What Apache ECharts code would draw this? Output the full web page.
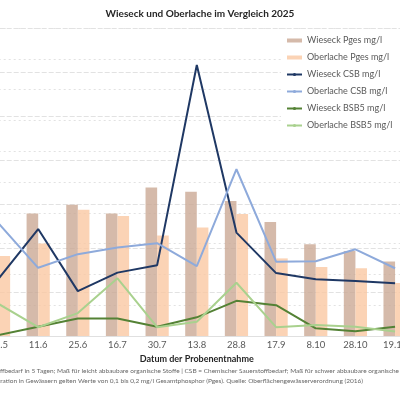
<!DOCTYPE html>
<html><head><meta charset="utf-8">
<script src="https://cdn.jsdelivr.net/npm/echarts@6/dist/echarts.min.js"></script>
<style>html,body{margin:0;padding:0;background:#fff}#c{width:400px;height:400px}</style>
</head><body><div id="c"></div>
<script>
const categories = ['28.5','11.6','25.6','16.7','30.7','13.8','28.8','17.9','8.10','28.10','19.11'];
const wieseckPges = [0.20,0.199,0.213,0.199,0.241,0.234,0.219,0.185,0.149,0.138,0.121];
const oberlachePges = [0.130,0.150,0.205,0.195,0.163,0.176,0.198,0.126,0.112,0.110,0.086];
const wieseckCSB = [13.0,24.3,10.2,14.4,16.1,61.6,23.5,14.3,12.9,12.5,12.0];
const oberlacheCSB = [25.6,15.5,18.6,20.1,21.1,15.9,37.9,16.9,17.0,19.7,15.4];
const wieseckBSB5 = [0.2,2.1,4.0,4.0,2.1,4.25,8.0,7.0,1.75,1.1,2.1];
const oberlacheBSB5 = [7.3,2.0,5.2,13.1,2.0,3.25,12.1,2.0,2.5,2.1,1.0];
const footLine1 = 'BSB5 = Biochemischer Sauerstoffbedarf in 5 Tagen; Maß für leicht abbaubare organische Stoffe | CSB = Chemischer Sauerstoffbedarf; Maß für schwer abbaubare organische Stoffe';
const footLine2 = 'Als Orientierungswert für die Phosphorkonzentration in Gewässern gelten Werte von 0,1 bis 0,2 mg/l Gesamtphosphor (Pges). Quelle: Oberflächengewässerverordnung (2016)';

const FONT = 'Lato';
const footSize = 6.5;
const ctx = document.createElement('canvas').getContext('2d');
ctx.font = footSize + 'px ' + FONT;
const prefixW = ctx.measureText('BSB5 = Biochemischer Sauersto').width;

const chart = echarts.init(document.getElementById('c'));
chart.setOption({
  animation: false,
  backgroundColor: '#fff',
  textStyle: { fontFamily: FONT },
  title: {
    text: 'Wieseck und Oberlache im Vergleich 2025',
    left: 'center', top: 4,
    textStyle: { fontSize: 10, fontWeight: 'bold', color: '#262626', fontFamily: FONT }
  },
  legend: {
    orient: 'vertical', left: 281, top: 33,
    padding: [3, 20, 3, 5],
    backgroundColor: '#fff',
    itemWidth: 15, itemHeight: 4, itemGap: 8,
    textStyle: { fontSize: 9, color: '#595959', fontFamily: FONT },
    data: [
      { name: 'Wieseck Pges mg/l', icon: 'rect' },
      { name: 'Oberlache Pges mg/l', icon: 'rect' },
      { name: 'Wieseck CSB mg/l' },
      { name: 'Oberlache CSB mg/l' },
      { name: 'Wieseck BSB5 mg/l' },
      { name: 'Oberlache BSB5 mg/l' }
    ]
  },
  grid: { left: -21.3, right: -14.9, top: 28, bottom: 64, containLabel: false, outerBoundsMode: 'none' },
  xAxis: {
    type: 'category', data: categories,
    axisLine: { show: true, lineStyle: { color: '#e0e0e0' } },
    axisTick: { show: false },
    axisLabel: { color: '#595959', fontSize: 9.5, margin: 4, fontFamily: FONT },
    name: 'Datum der Probenentnahme', nameLocation: 'middle', nameGap: 15,
    nameTextStyle: { fontSize: 9, fontWeight: 'bold', color: '#262626', fontFamily: FONT }
  },
  yAxis: [
    { type: 'value', min: 0, max: 70, interval: 10, position: 'left',
      axisLabel: { color: '#595959', fontSize: 10 },
      splitLine: { lineStyle: { color: '#e2e2e2', type: [5, 2], width: 1 } } },
    { type: 'value', min: 0, max: 0.5, interval: 0.05, position: 'right',
      axisLabel: { color: '#595959', fontSize: 10 },
      splitLine: { lineStyle: { color: '#e2e2e2', type: [2, 3], width: 1 } } }
  ],
  graphic: [
    { type: 'text', left: -prefixW, top: 367, style: { text: footLine1, fontSize: footSize, fill: '#666', fontFamily: FONT } },
    { type: 'text', right: 37, top: 377, style: { text: footLine2, fontSize: footSize, fill: '#666', fontFamily: FONT } }
  ],
  series: [
    { name: 'Wieseck Pges mg/l', type: 'bar', yAxisIndex: 1, data: wieseckPges, barWidth: 11.6, barGap: '0%',
      itemStyle: { color: '#cba995', opacity: 0.8 } },
    { name: 'Oberlache Pges mg/l', type: 'bar', yAxisIndex: 1, data: oberlachePges, barWidth: 11.6, barGap: '0%',
      itemStyle: { color: '#fac8a3', opacity: 0.8 } },
    { name: 'Wieseck CSB mg/l', type: 'line', yAxisIndex: 0, data: wieseckCSB, symbol: 'none',
      lineStyle: { color: '#1f3864', width: 2 }, itemStyle: { color: '#1f3864' } },
    { name: 'Oberlache CSB mg/l', type: 'line', yAxisIndex: 0, data: oberlacheCSB, symbol: 'none',
      lineStyle: { color: '#8eaadb', width: 2 }, itemStyle: { color: '#8eaadb' } },
    { name: 'Wieseck BSB5 mg/l', type: 'line', yAxisIndex: 0, data: wieseckBSB5, symbol: 'none',
      lineStyle: { color: '#548235', width: 2 }, itemStyle: { color: '#548235' } },
    { name: 'Oberlache BSB5 mg/l', type: 'line', yAxisIndex: 0, data: oberlacheBSB5, symbol: 'none',
      lineStyle: { color: '#a9d18e', width: 2 }, itemStyle: { color: '#a9d18e' } }
  ]
});
</script></body></html>
